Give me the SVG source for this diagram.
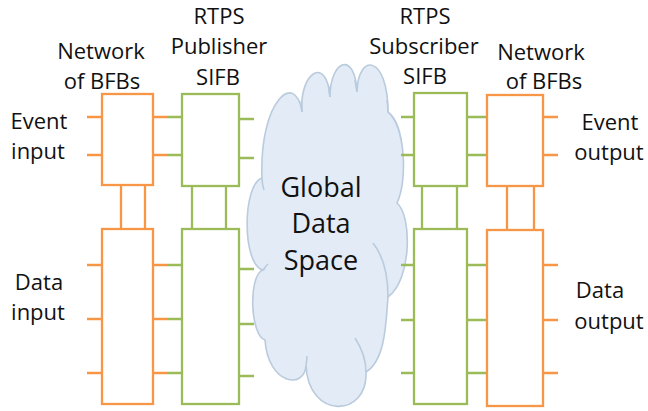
<svg xmlns="http://www.w3.org/2000/svg" width="648" height="411" viewBox="0 0 648 411">
  <style>
    .bfb { fill: #ffffff; stroke: #F79646; stroke-width: 2.3; }
    .sifb { fill: #ffffff; stroke: #9BBB59; stroke-width: 2.3; }
    .lo { stroke: #F79646; stroke-width: 2.3; fill: none; }
    .lg { stroke: #9BBB59; stroke-width: 2.3; fill: none; }
    .cloud { fill: #E2EBF6; stroke: #BACBDD; stroke-width: 1.6; }
    .hook { fill: none; stroke: #BACBDD; stroke-width: 1.6; }
    text { font-family: "Open Sans", "Liberation Sans", sans-serif; font-size: 22px; fill: #111111; text-anchor: middle; }
    .big { font-size: 27px; }
  </style>

  <!-- Shared data space -->
  <g id="global-data-space">
    <path class="cloud" d="M262,178 C259,100 296,70 302,112 C299,72 327,55 330,97 C330,60 355,50 357,92 C358,52 388,55 388,112 C405,125 408,180 397,203 C412,215 412,280 388,297 C386,320 386,360 366,372 C368,418 308,420 306,365 C305,390 268,385 265,340 C250,335 248,275 263,270 C242,265 242,185 262,178 Z"/>
    <path class="hook" d="M262,178 Q262,184 264,190"/>
    <path class="hook" d="M302,112 Q302,106 301,101"/>
    <path class="hook" d="M330,97 Q329,92 329,86"/>
    <path class="hook" d="M357,92 Q356,86 355,80"/>
    <path class="hook" d="M388,112 Q388,106 387,100"/>
    <path class="hook" d="M373,243 Q388,262 388,297"/>
    <path class="hook" d="M263,270 Q266,266 268,264"/>
    <path class="hook" d="M306,365 Q307,360 307,356"/>
    <path class="hook" d="M366,372 Q366,355 355,338"/>
    <text class="big" x="321" y="197">Global</text>
    <text class="big" x="321" y="233">Data</text>
    <text class="big" x="321" y="270">Space</text>
  </g>

  <!-- Links and event/data stubs -->
  <g id="connectors">
    <!-- left network: external inputs -->
    <path class="lo" d="M87,117H102 M87,155H102 M87,265H102 M87,319H102 M87,373H102"/>
    <!-- left network to publisher -->
    <path class="lo" d="M153,117H167 M153,155H167 M153,265H167 M153,319H167 M153,373H167"/>
    <path class="lg" d="M167,117H182 M167,155H182 M167,265H182 M167,319H182 M167,373H182"/>
    <!-- publisher into the data space -->
    <path class="lg" d="M239,119H254 M239,158H254 M239,269H254 M239,324H254 M239,376H254"/>
    <!-- data space into subscriber -->
    <path class="lg" d="M401,117H414 M401,155H414 M401,265H414 M401,320H414 M401,373H414"/>
    <!-- subscriber to right network -->
    <path class="lg" d="M467,117H487 M467,155H487 M467,265H487 M467,320H487 M467,373H487"/>
    <!-- right network: external outputs -->
    <path class="lo" d="M543,117H558 M543,155H558 M543,265H558 M543,320H558 M543,373H558"/>
    <!-- event/data block couplings -->
    <path class="lo" d="M121,185V229 M145,185V229"/>
    <path class="lg" d="M192,186V229 M226,186V229"/>
    <path class="lg" d="M422,186V229 M457,186V229"/>
    <path class="lo" d="M507,186V230 M534,186V230"/>
  </g>

  <g id="left-network">
    <rect class="bfb" x="102" y="94" width="51" height="91"/>
    <rect class="bfb" x="102" y="229" width="51" height="175"/>
    <text x="101" y="59">Network</text>
    <text x="102" y="89">of BFBs</text>
  </g>

  <g id="publisher-sifb">
    <rect class="sifb" x="182" y="94" width="57" height="92"/>
    <rect class="sifb" x="182" y="229" width="57" height="175"/>
    <text x="219" y="24">RTPS</text>
    <text x="219" y="54">Publisher</text>
    <text x="218" y="85">SIFB</text>
  </g>

  <g id="subscriber-sifb">
    <rect class="sifb" x="414" y="93" width="53" height="93"/>
    <rect class="sifb" x="414" y="229" width="53" height="175"/>
    <text x="425" y="24">RTPS</text>
    <text x="424" y="54">Subscriber</text>
    <text x="425" y="84">SIFB</text>
  </g>

  <g id="right-network">
    <rect class="bfb" x="487" y="95" width="56" height="91"/>
    <rect class="bfb" x="487" y="230" width="56" height="176"/>
    <text x="541" y="60">Network</text>
    <text x="544" y="89">of BFBs</text>
  </g>

  <g id="io-labels">
    <text x="39" y="129">Event</text>
    <text x="38" y="159">input</text>
    <text x="39" y="290">Data</text>
    <text x="38" y="320">input</text>
    <text x="610" y="130">Event</text>
    <text x="609" y="160">output</text>
    <text x="600" y="298">Data</text>
    <text x="609" y="329">output</text>
  </g>
</svg>
